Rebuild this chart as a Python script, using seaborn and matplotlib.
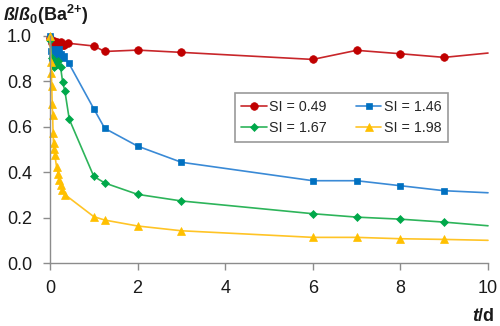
import numpy as np
import pandas as pd
import matplotlib
matplotlib.use("Agg")
import matplotlib.pyplot as plt
from matplotlib.lines import Line2D
import seaborn as sns

# ---- data ----
t_049 = [0, 0.04, 0.08, 0.13, 0.17, 0.21, 0.25, 0.29, 0.33, 0.42, 1.0, 1.25, 2, 3, 6, 7, 8, 9, 10]
v_049 = [0.99, 0.965, 0.975, 0.96, 0.97, 0.965, 0.97, 0.96, 0.958, 0.966, 0.954, 0.93, 0.936, 0.926,
         0.895, 0.935, 0.92, 0.904, 0.923]

t_146 = [0, 0.02, 0.04, 0.06, 0.08, 0.1, 0.13, 0.17, 0.21, 0.25, 0.29, 0.33, 0.43, 1.0, 1.25, 2, 3,
         6, 7, 8, 9, 10]
v_146 = [1.0, 0.93, 0.9, 0.94, 0.88, 0.92, 0.93, 0.91, 0.94, 0.92, 0.9, 0.91, 0.878, 0.678, 0.592,
         0.514, 0.443, 0.362, 0.362, 0.34, 0.318, 0.309]

t_167 = [0, 0.04, 0.08, 0.13, 0.19, 0.24, 0.29, 0.34, 0.44, 1.0, 1.25, 2, 3, 6, 7, 8, 9, 10]
v_167 = [0.98, 0.9, 0.86, 0.87, 0.89, 0.863, 0.794, 0.756, 0.632, 0.381, 0.352, 0.302, 0.273,
         0.217, 0.202, 0.193, 0.18, 0.164]

t_198 = [0, 0.02, 0.03, 0.04, 0.05, 0.06, 0.07, 0.08, 0.1, 0.11, 0.15, 0.19, 0.21, 0.24, 0.28, 0.34,
         1.0, 1.25, 2, 3, 6, 7, 8, 9, 10]
v_198 = [1.0, 0.885, 0.834, 0.78, 0.70, 0.65, 0.573, 0.527, 0.5, 0.475, 0.423, 0.39, 0.367, 0.345,
         0.323, 0.301, 0.204, 0.189, 0.163, 0.142, 0.113, 0.113, 0.107, 0.104, 0.1]

series_labels = ["SI = 0.49", "SI = 1.46", "SI = 1.67", "SI = 1.98"]
x_ticks = [0, 2, 4, 6, 8, 10]
y_ticks = [0.0, 0.2, 0.4, 0.6, 0.8, 1.0]

# ---- style ----
sns.set_theme(style="white")
plt.rcParams["font.family"] = ["Liberation Sans", "DejaVu Sans"]
plt.rcParams["mathtext.fontset"] = "custom"
plt.rcParams["mathtext.rm"] = "Liberation Sans:bold"
plt.rcParams["mathtext.it"] = "Liberation Sans:italic:bold"
plt.rcParams["mathtext.bf"] = "Liberation Sans:bold"

line_cols = ["#C8262A", "#3A8AD6", "#2DB45A", "#FFC426"]
mark_cols = ["#C00000", "#0070C0", "#00A84A", "#FFC000"]
markers = ["o", "s", "D", "^"]
msizes = [5.5, 5.0, 4.0, 5.5]

fig = plt.figure(figsize=(5.0, 3.26), dpi=100)
ax = fig.add_axes([0.1, 0.193, 0.876, 0.698])

data = [(t_049, v_049), (t_146, v_146), (t_167, v_167), (t_198, v_198)]
for i, (tt, vv) in enumerate(data):
    df = pd.DataFrame({"t": tt, "v": vv})
    sns.lineplot(data=df, x="t", y="v", ax=ax, sort=False, estimator=None,
                 color=line_cols[i], lw=1.2, marker=markers[i], markersize=msizes[i],
                 markerfacecolor=mark_cols[i], markeredgecolor=mark_cols[i],
                 markeredgewidth=0.5, clip_on=False, legend=False)
    ln = ax.lines[-1]
    ln.set_markevery(list(range(len(tt) - 1)))

ax.set_xlim(0, 10)
ax.set_ylim(0, 1.0)
ax.set_xticks(x_ticks)
ax.set_xticklabels([str(v) for v in x_ticks])
ax.set_yticks(y_ticks)
ax.set_yticklabels([f"{v:.1f}" for v in y_ticks])
ax.set_xlabel("")
ax.set_ylabel("")

for s in ["top", "right"]:
    ax.spines[s].set_visible(False)
for s in ["left", "bottom"]:
    ax.spines[s].set_color("#8c8c8c")
    ax.spines[s].set_linewidth(1.0)
ax.tick_params(axis="both", which="major", direction="out", length=5, width=1.0,
               color="#8c8c8c", labelsize=13, labelcolor="#1a1a1a",
               bottom=True, left=True)
ax.tick_params(axis="y", pad=8)
ax.tick_params(axis="x", pad=7)

proxies = [Line2D([0], [0], color=line_cols[i], lw=1.2, marker=markers[i],
                  markersize=msizes[i], markerfacecolor=mark_cols[i],
                  markeredgecolor=mark_cols[i], markeredgewidth=0.5)
           for i in range(4)]
order = [0, 2, 1, 3]  # row-major appearance with 2 columns
leg = ax.legend([proxies[i] for i in order], [series_labels[i] for i in order],
                ncol=2, loc="center", bbox_to_anchor=(0.665, 0.64), frameon=True,
                fancybox=False, edgecolor="#808080", fontsize=10.3, handlelength=1.8,
                handletextpad=0.15, columnspacing=2.0, borderpad=0.45,
                labelspacing=0.55, borderaxespad=0)
leg.get_frame().set_linewidth(1.2)

fig.text(0.006, 0.955, r"$\mathit{ß}/\mathit{ß}_0\mathrm{(Ba^{2{+}})}$", fontsize=13,
         ha="left", va="center", color="#1a1a1a")
fig.text(0.99, 0.03, r"$\mathit{t}\mathrm{/d}$", fontsize=13,
         ha="right", va="center", color="#1a1a1a")

fig.savefig("out.png", dpi=100)
